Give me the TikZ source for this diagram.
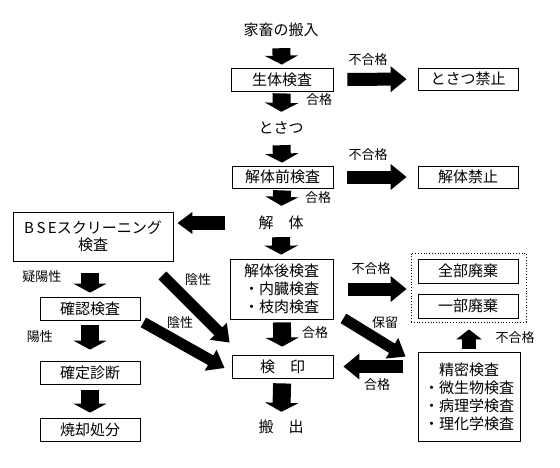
\documentclass[tikz,border=0pt]{standalone}
\usepackage{fontspec}
\setmainfont{Noto Sans CJK JP}
\usetikzlibrary{arrows.meta}
\tikzset{
    box/.style={draw, line width=0.8pt, inner sep=0pt, align=center, font=\fontsize{15}{18}\selectfont},
    word/.style={inner sep=0pt, minimum height=16pt, font=\fontsize{15}{18}\selectfont},
    lab/.style={inner sep=0pt, font=\fontsize{13}{15}\selectfont},
    vflow/.style={line width=18pt, -{Triangle[length=9pt,width=33pt]}},
    hflow/.style={line width=13pt, -{Triangle[length=16pt,width=25pt]}},
    dflow/.style={line width=11pt, -{Triangle[length=16pt,width=23pt]}},
    gap/.style 2 args={shorten <=#1pt, shorten >=#2pt},
}

\begin{document}
\begin{tikzpicture}[x=1pt, y=-1pt]
\fill[white] (0,0) rectangle (560,467);
\useasboundingbox (0,0) rectangle (560,467);

% main line
\node[word] (hannyu) at (281,30) {家畜の搬入};
\node[box, minimum width=102pt, minimum height=23pt] (seitai) at (282,79.5) {生体検査};
\node[word] (tosatsu) at (281,128) {とさつ};
\node[box, minimum width=101pt, minimum height=22pt] (maekensa) at (282.5,177) {解体前検査};
\node[word] (kaitai) at (281,223) {解　体};
\node[box, minimum width=103pt, minimum height=60pt] (gokensa) at (281.5,289) {解体後検査\\・内臓検査\\・枝肉検査};
\node[box, minimum width=101pt, minimum height=23pt] (kenin) at (282.5,366.5) {検　印};
\node[word] (hanshutsu) at (281,427) {搬　出};

% right side
\node[box, minimum width=100pt, minimum height=22pt] (tkinshi) at (468,79) {とさつ禁止};
\node[box, minimum width=100pt, minimum height=22pt] (kkinshi) at (468,177) {解体禁止};
\node[draw, dotted, line width=0.8pt, minimum width=115pt, minimum height=69pt] (haiki) at (468.5,287.5) {};
\node[box, minimum width=100pt, minimum height=24pt] (zenbu) at (468,271) {全部廃棄};
\node[box, minimum width=100pt, minimum height=24pt] (ichibu) at (468,306) {一部廃棄};
\node[box, minimum width=102pt, minimum height=89pt] (seimitsu) at (469,396.5) {精密検査\\・微生物検査\\・病理学検査\\・理化学検査};

% left side
\node[box, minimum width=160pt, minimum height=49pt, font=\fontsize{15}{17}\selectfont] (bse) at (93,236.5) {B\hspace{2.5pt}S\hspace{2.5pt}Eスクリーニング\\検査};
\node[box, minimum width=100pt, minimum height=23pt] (kakunin) at (90,308.5) {確認検査};
\node[box, minimum width=100pt, minimum height=23pt] (kakutei) at (90,372.5) {確定診断};
\node[box, minimum width=100pt, minimum height=23pt] (shokyaku) at (90,429.5) {焼却処分};

% arrows down the middle
\draw[vflow, gap={10}{3}] (hannyu) -- (seitai);
\draw[vflow, gap={2}{8}] (seitai) -- (tosatsu);
\draw[vflow, gap={9}{3}] (tosatsu) -- (maekensa);
\draw[vflow, gap={2}{9}] (maekensa) -- (kaitai);
\draw[vflow, gap={6}{4}] (kaitai) -- (gokensa);
\draw[vflow, gap={3}{8}] (gokensa) -- (kenin);
\draw[vflow, gap={5}{7}] (kenin) -- (hanshutsu);

% arrows to the right
\draw[hflow, gap={14}{11}] (seitai) -- (tkinshi);
\draw[hflow, gap={14}{11}] (maekensa) -- (kkinshi);
\draw[hflow, gap={15}{4}] (gokensa.east) -- (gokensa.east -| haiki.west);
\draw[dflow] ([shift={(10,-1)}]gokensa.south east) -- ([shift={(-12,5)}]seimitsu.north west);
\draw[hflow, gap={15}{10}] (kenin.east -| seimitsu.west) -- (kenin.east);
\draw[hflow, line width=14pt, -{Triangle[length=10pt,width=25pt]}, gap={3}{7}] (seimitsu.north) -- (seimitsu.north |- haiki.south);

% arrows to the left
\draw[hflow, line width=14pt, -{Triangle[length=15pt,width=21pt]}, gap={33}{4}] (kaitai.west) -- (kaitai.west -| bse.east);
\draw[vflow, gap={12}{4}] (bse.south -| kakunin) -- (kakunin);
\draw[vflow, gap={5}{11}] (kakunin) -- (kakutei);
\draw[vflow, gap={6}{5}] (kakutei) -- (shokyaku);
\draw[dflow] ([shift={(-11,14)}]bse.south east) -- ([shift={(-2,-12)}]kenin.north west);
\draw[dflow] ([shift={(3,2)}]kakunin.south east) -- ([shift={(-7,1.5)}]kenin.west);

% labels
\node[lab] at (368,60) {不合格};
\node[lab] at (319,100) {合格};
\node[lab] at (368,155) {不合格};
\node[lab] at (318,198) {合格};
\node[lab] at (371,269) {不合格};
\node[lab] at (315,333) {合格};
\node[lab] at (385,323) {保留};
\node[lab] at (377,385) {合格};
\node[lab] at (515,338) {不合格};
\node[lab] at (42,277) {疑陽性};
\node[lab] at (40,337) {陽性};
\node[lab] at (198,280) {陰性};
\node[lab] at (180,323) {陰性};
\end{tikzpicture}
\end{document}
